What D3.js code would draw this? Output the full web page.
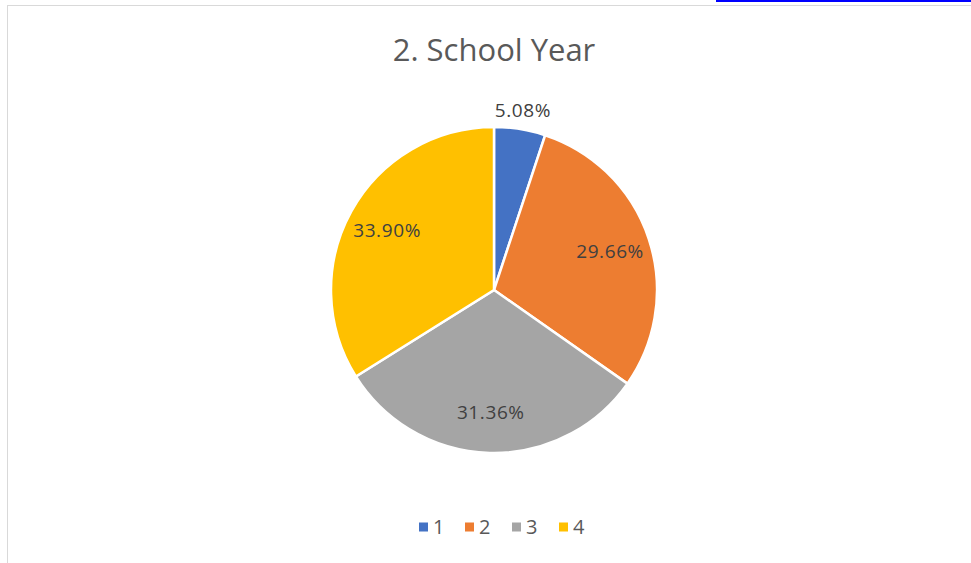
<!DOCTYPE html>
<html>
<head>
<meta charset="utf-8">
<script src="https://cdn.jsdelivr.net/npm/d3@7"></script>
<style>
  body { margin: 0; background: #fff; }
  svg { display: block; }
</style>
</head>
<body>
<div id="chart"></div>
<script>
// chart data
const categories = ['1', '2', '3', '4'];
const shares = [5.08, 29.66, 31.36, 33.90];
const colors = ['#4472c4', '#ed7d31', '#a5a5a5', '#ffc000'];
const title = '2. School Year';

const width = 971, height = 563;
const cx = 494, cy = 290, radius = 163;
const font = 'Open Sans, Noto Sans, sans-serif';

const svg = d3.select('#chart').append('svg')
  .attr('width', width)
  .attr('height', height);

// frame of the chart area (cut off at top and right)
svg.append('rect')
  .attr('x', 7.5).attr('y', 5.5)
  .attr('width', 980).attr('height', 600)
  .attr('fill', '#fff')
  .attr('stroke', '#d9d9d9');

// link underline remnant at the top right
svg.append('line')
  .attr('x1', 716).attr('x2', width)
  .attr('y1', 1).attr('y2', 1)
  .attr('stroke', '#0000ff').attr('stroke-width', 2);

svg.append('text')
  .attr('x', cx).attr('y', 61)
  .attr('text-anchor', 'middle')
  .attr('font-family', font)
  .attr('font-size', 31)
  .attr('fill', '#595959')
  .text(title);

const data = categories.map((c, i) => ({ cat: c, value: shares[i], color: colors[i] }));

const pie = d3.pie().sort(null).value((d) => d.value);
const arcs = pie(data);

const arc = d3.arc().innerRadius(0).outerRadius(radius);
const labelArc = d3.arc().innerRadius(radius * 0.75).outerRadius(radius * 0.75);
const outerArc = d3.arc().innerRadius(radius + 19).outerRadius(radius + 19);

const g = svg.append('g').attr('transform', `translate(${cx},${cy})`);

g.selectAll('path')
  .data(arcs)
  .enter()
  .append('path')
  .attr('d', arc)
  .attr('fill', (d) => d.data.color)
  .attr('stroke', '#fff')
  .attr('stroke-width', 2.5);

g.selectAll('.label')
  .data(arcs)
  .enter()
  .append('text')
  .attr('class', 'label')
  .attr('transform', (d) => {
    const small = d.data.value < 10;
    const [x, y] = (small ? outerArc : labelArc).centroid(d);
    return `translate(${x},${y})`;
  })
  .attr('dy', '0.35em')
  .attr('text-anchor', 'middle')
  .attr('font-family', font)
  .attr('font-size', 19)
  .attr('letter-spacing', 0.6)
  .attr('fill', '#404040')
  .text((d) => d.data.value.toFixed(2) + '%');

// legend
const legendX = [419, 465, 512, 559];
const legend = svg.append('g').attr('transform', 'translate(0,527)');
const item = legend.selectAll('g')
  .data(data)
  .enter()
  .append('g')
  .attr('transform', (d, i) => `translate(${legendX[i]},0)`);

item.append('rect')
  .attr('x', 0).attr('y', -4.5)
  .attr('width', 9).attr('height', 9)
  .attr('fill', (d) => d.color);

item.append('text')
  .attr('x', 14).attr('dy', '0.36em')
  .attr('font-family', font)
  .attr('font-size', 20)
  .attr('fill', '#595959')
  .text((d) => d.cat);
</script>
</body>
</html>
